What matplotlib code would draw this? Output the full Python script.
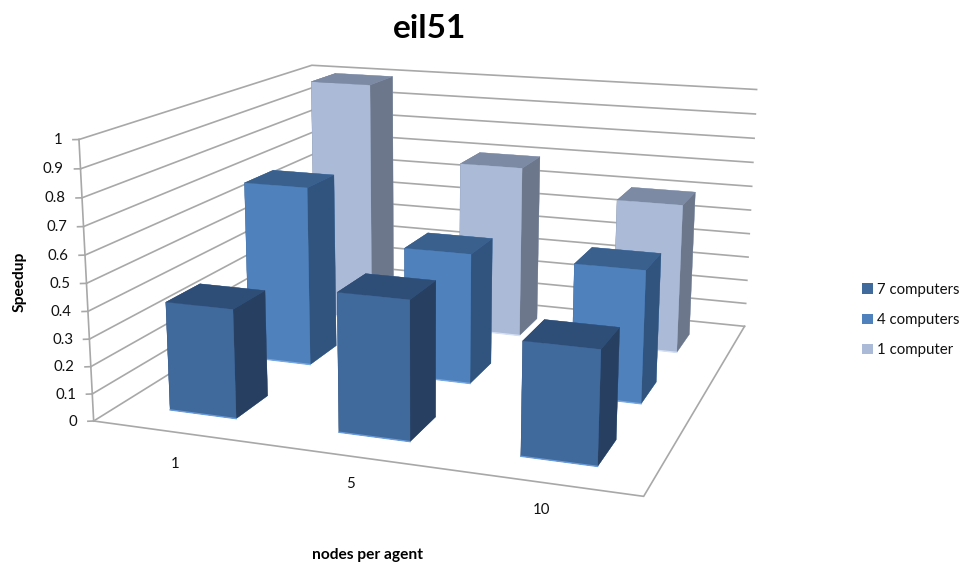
import numpy as np
import matplotlib
matplotlib.use("Agg")
import matplotlib.pyplot as plt
from matplotlib.patches import Patch
from mpl_toolkits.mplot3d import proj3d

plt.rcParams['font.family'] = ['Lato', 'DejaVu Sans']

# speedup for each agent size, one list per computer count
nodes_per_agent = ['1', '5', '10']
series_names = ['7 computers', '4 computers', '1 computer']
speedup_7 = [0.4, 0.5, 0.4]
speedup_4 = [0.7, 0.5, 0.5]
speedup_1 = [1.0, 0.7, 0.6]
speedup_ticks = [0, 0.1, 0.2, 0.3, 0.4, 0.5, 0.6, 0.7, 0.8, 0.9, 1]
tick_labels = ['0', '0.1', '0.2', '0.3', '0.4', '0.5', '0.6', '0.7', '0.8', '0.9', '1']

series_values = [speedup_7, speedup_4, speedup_1]
# front, top and side shades per series
series_colors = [
    ('#40699C', '#2E4E78', '#273F61'),
    ('#4F81BD', '#3A608E', '#30547D'),
    ('#AABAD7', '#7D8AA3', '#6C778B'),
]
base_glow = ['#6A9BD8', '#78A8E0', '#D5E0F2']
grid_color = '#A8A8A8'

W, H = 965, 563
fig = plt.figure(figsize=(W / 100, H / 100), dpi=100, facecolor='white')

# camera: square 3D axes, larger than the figure, so the box lands where it should
side = 750.9
center_x, center_y = 438.78, 309.5
ax = fig.add_axes([(center_x - side / 2) / W, (center_y - side / 2) / H, side / W, side / H],
                  projection='3d')
ax.set_xlim(0, 3)
ax.set_ylim(0, 3)
ax.set_zlim(0, 1)
ax.view_init(14.194, -70.768, -0.251)
ax.set_proj_type('persp', focal_length=0.401)
ax.set_box_aspect((1.96, 1.914, 1.0))
ax.set_axis_off()
ax.computed_zorder = False

n_cat, n_ser = len(nodes_per_agent), len(series_names)

# wall gridlines and floor outline
for z in speedup_ticks:
    ax.plot([0, 0, n_cat], [0, n_ser, n_ser], [z, z, z], color=grid_color, lw=1.2, zorder=1)
ax.plot([0, n_cat, n_cat], [0, 0, n_ser], [0, 0, 0], color=grid_color, lw=1.2, zorder=1)
ax.plot([0, 0], [0, 0], [0, 1], color=grid_color, lw=1.2, zorder=1)

# tick marks and value labels left of the front wall edge
proj = ax.get_proj()
for z, label in zip(speedup_ticks, tick_labels):
    ax.plot([0, -0.027], [0, -0.014], [z, z], color=grid_color, lw=1.2, zorder=1)
    u, v, _ = proj3d.proj_transform(-0.075, -0.038, z, proj)
    ax.text2D(u, v, label, transform=ax.transData, ha='right', va='center',
              fontsize=10.8, color='#111111')

# bars, back row first
bar_w = 0.4
for j in range(n_ser - 1, -1, -1):
    front, top, sides = series_colors[j]
    # bar3d face order: bottom, top, front, back, left, right
    faces = [front, top, front, front, sides, sides]
    for i in range(n_cat):
        x0 = i + (1 - bar_w) / 2
        y0 = j + (1 - bar_w) / 2
        z_base = 10 + 3 * (n_ser - j) + i * 0.5
        ax.bar3d(x0, y0, 0, bar_w, bar_w, series_values[j][i], color=faces, shade=False,
                 edgecolor=faces, linewidth=0.2, zorder=z_base)
        ax.plot([x0, x0 + bar_w], [y0, y0], [0, 0], color=base_glow[j], lw=1.0, zorder=z_base + 0.1)

# category labels in front of the floor
cat_label_x = [175, 351, 542]
cat_label_y = [464, 484, 510]
for label, px, py in zip(nodes_per_agent, cat_label_x, cat_label_y):
    fig.text(px / W, 1 - py / H, label, ha='center', va='center', fontsize=10.8, color='#111111')

fig.text(430 / W, 1 - 29 / H, 'eil51', ha='center', va='center', fontsize=24, fontweight='bold', color='black')
fig.text(20 / W, 1 - 282 / H, 'Speedup', rotation=90, ha='center', va='center', fontsize=11.2,
         fontweight='bold', color='black')
fig.text(368 / W, 1 - 555 / H, 'nodes per agent', ha='center', va='center', fontsize=11.2,
         fontweight='bold', color='black')

handles = [Patch(facecolor=c[0], edgecolor='none') for c in series_colors]
fig.legend(handles, series_names, loc='center left', bbox_to_anchor=(862 / W, 1 - 320 / H),
           frameon=False, fontsize=10.8, labelspacing=1.07, handlelength=0.75, handleheight=0.7,
           handletextpad=0.27, borderpad=0, borderaxespad=0, labelcolor='#111111')

fig.savefig("out.png", dpi=100)
